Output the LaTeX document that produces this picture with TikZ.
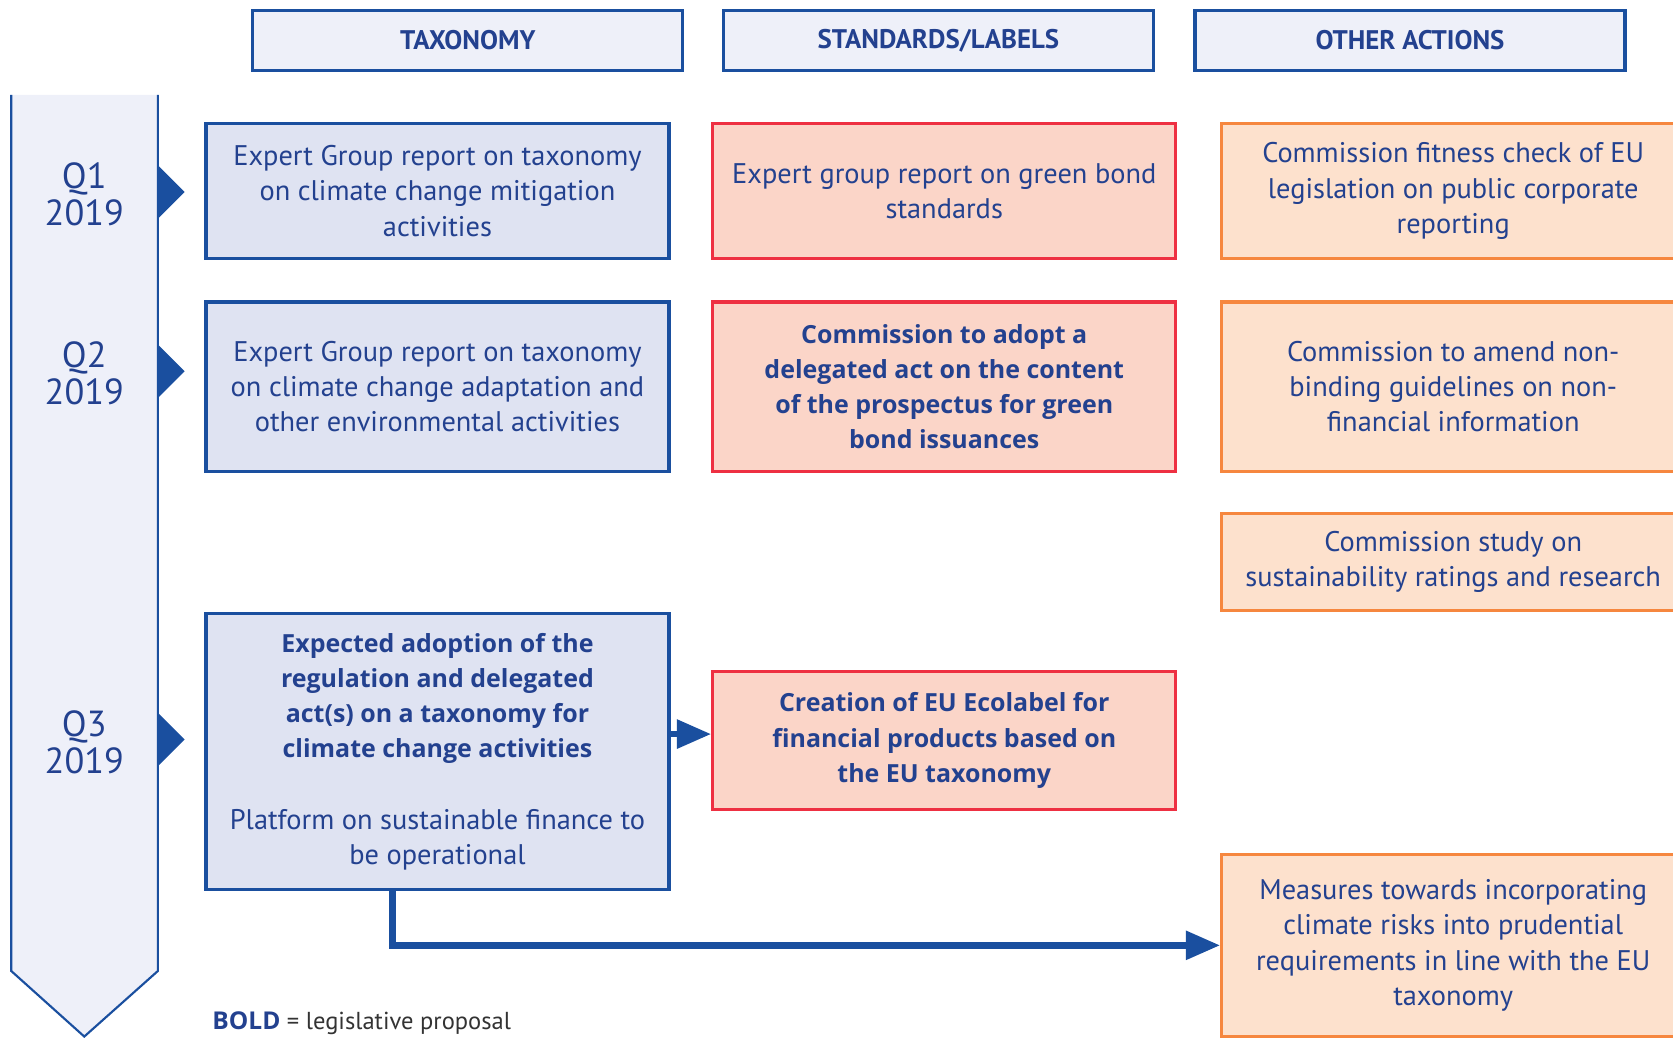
\documentclass[tikz,border=0pt]{standalone}
\usepackage{fontspec}
\setmainfont{PT Sans}
\newfontfamily\heavyfont{Open Sans}
\usetikzlibrary{arrows.meta}
\definecolor{eublue}{HTML}{1A4F9F}
\definecolor{eutext}{HTML}{23418F}
\definecolor{headfill}{HTML}{EEF0F9}
\definecolor{taxfill}{HTML}{DFE3F2}
\definecolor{stdred}{HTML}{EE3042}
\definecolor{stdfill}{HTML}{FBD5C8}
\definecolor{othorange}{HTML}{F6873F}
\definecolor{othfill}{HTML}{FDE1CD}
\newcommand{\heavy}[1]{{\heavyfont\bfseries\fontsize{11.7}{16.5}\selectfont #1}}
\begin{document}
\begin{tikzpicture}
	[x=0.5pt, y=-0.5pt,
	every node/.style={align=center, text=eutext, font=\fontsize{13.3}{16.5}\selectfont},
	box/.style={rectangle, line width=1.5pt, minimum width=217pt, inner sep=2pt},
	tax/.style={box, draw=eublue, fill=taxfill},
	std/.style={box, draw=stdred, fill=stdfill},
	oth/.style={box, draw=othorange, fill=othfill},
	head/.style={rectangle, draw=eublue, fill=headfill, line width=1.5pt, minimum width=201.5pt, minimum height=28pt, font=\fontsize{12.6}{14}\selectfont\bfseries},
	quarter/.style={font=\fontsize{17}{17.5}\selectfont},
	link/.style={draw=eublue, line width=3pt, -{Triangle[length=16pt, width=13pt]}},
	]

	\useasboundingbox (0,0) rectangle (1568,974);
	\clip (0,0) rectangle (1568,974);

	% Zeitleiste links
	\draw[eublue, fill=headfill, line width=1pt] (10.5,89) -- (10.5,910) -- (79,971.5) -- (148,910) -- (148,89);
	\foreach \y in {180, 348, 693}{
		\fill[eublue] (148,\y-25) -- (173,\y) -- (148,\y+25) -- cycle;
	}
	\node[quarter] (q1) at (79,182) {Q1\\2019};
	\node[quarter] (q2) at (79,350) {Q2\\2019};
	\node[quarter] (q3) at (79,696) {Q3\\2019};

	\node[head] (taxhead) at (438.5,38) {TAXONOMY};
	\node[head] (stdhead) at (879.5,38) {STANDARDS/LABELS};
	\node[head] (othhead) at (1321.5,38) {OTHER ACTIONS};

	\node[tax, minimum height=63pt] (tax1) at (410,179)
		{Expert Group report on taxonomy\\on climate change mitigation\\activities};
	\node[tax, minimum height=79.5pt] (tax2) at (410,362.5)
		{Expert Group report on taxonomy\\on climate change adaptation and\\other environmental activities};
	\node[tax, minimum height=129.5pt] (tax3) at (410,704.5)
		{\heavy{Expected adoption of the}\\\heavy{regulation and delegated}\\\heavy{act(s) on a taxonomy for}\\\heavy{climate change activities}\\[17pt]Platform on sustainable finance to\\be operational};

	\node[std, minimum height=63pt] (std1) at (885,179)
		{Expert group report on green bond\\standards};
	\node[std, minimum height=79.5pt] (std2) at (885,362.5)
		{\heavy{Commission to adopt a}\\\heavy{delegated act on the content}\\\heavy{of the prospectus for green}\\\heavy{bond issuances}};
	\node[std, minimum height=65pt] (std3) at (885,694)
		{\heavy{Creation of EU Ecolabel for}\\\heavy{financial products based on}\\\heavy{the EU taxonomy}};

	\node[oth, minimum height=63pt] (oth1) at (1362,179)
		{Commission fitness check of EU\\legislation on public corporate\\reporting};
	\node[oth, minimum height=79.5pt] (oth2) at (1362,362.5)
		{Commission to amend non-\\binding guidelines on non-\\financial information};
	\node[oth, minimum height=45.5pt] (oth3) at (1362,526.5)
		{Commission study on\\sustainability ratings and research};
	\node[oth, minimum height=85.5pt] (oth4) at (1362,886)
		{Measures towards incorporating\\climate risks into prudential\\requirements in line with the EU\\taxonomy};

	\draw[link] ([yshift=3pt]tax3.east |- std3.west) -- ([yshift=3pt]std3.west);
	\draw[link] (tax3.south) ++(-42,0) |- (oth4.west);

	\node[anchor=base west, font=\fontsize{11.5}{14}\selectfont] (legend) at (192,965)
		{{\heavyfont\bfseries BOLD} {\color{black!80}= legislative proposal}};
\end{tikzpicture}
\end{document}
